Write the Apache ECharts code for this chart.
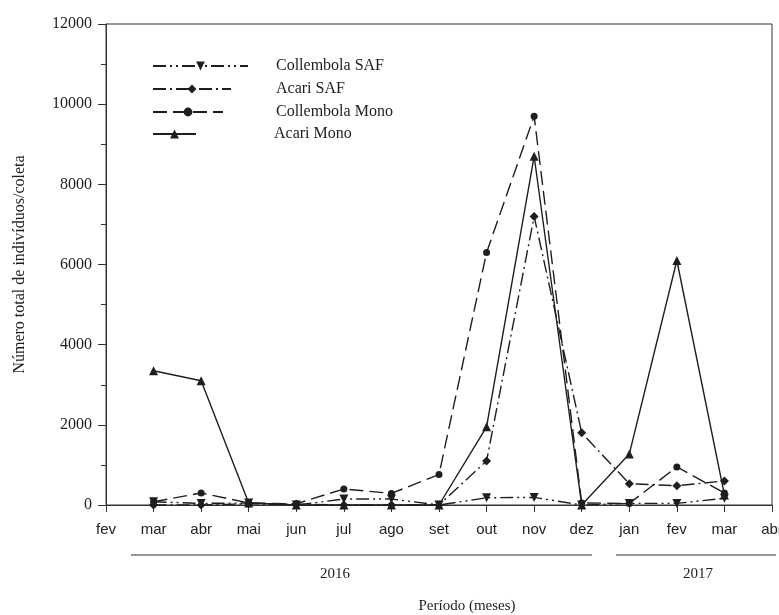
<!DOCTYPE html>
<html>
<head>
<meta charset="utf-8">
<script src="https://cdn.jsdelivr.net/npm/echarts@6/dist/echarts.min.js"></script>
<style>
html,body{margin:0;padding:0;background:#fff;}
#c{width:779px;height:615px;}
</style>
</head>
<body>
<div id="c"></div>
<script>
var months = ['fev','mar','abr','mai','jun','jul','ago','set','out','nov','dez','jan','fev','mar','abr'];
var yTicks = [0, 2000, 4000, 6000, 8000, 10000, 12000];
// values per sampling month (mar/2016 ... mar/2017); fev/2016 and abr/2017 have no sample
var collembolaSAF  = [null, 80, 40, 50, 0, 150, 150, 0, 180, 190, 0, 40, 40, 170, null];
var acariSAF       = [null, 0, 0, 30, 20, 0, 0, 0, 1100, 7200, 1800, 530, 480, 600, null];
var collembolaMono = [null, 80, 300, 50, 30, 400, 290, 760, 6300, 9700, 50, 40, 950, 300, null];
var acariMono      = [null, 3350, 3100, 50, 0, 0, 0, 0, 1950, 8700, 0, 1270, 6100, 250, null];
var seriesNames = ['Collembola SAF', 'Acari SAF', 'Collembola Mono', 'Acari Mono'];
var yearLabels = ['2016', '2017'];

var ink = '#1e1e1e';
var serif = '"Liberation Serif", "Times New Roman", serif';
var sans = '"Liberation Sans", Arial, sans-serif';

function mkSeries(name, data, symbol, size, rotate, dash) {
  return {
    name: name, type: 'line', data: data,
    symbol: symbol, symbolSize: size, symbolRotate: rotate,
    showAllSymbol: true, connectNulls: false,
    lineStyle: { color: ink, width: 1.4, type: dash },
    itemStyle: { color: ink, borderWidth: 0 },
    emphasis: { disabled: true },
    animation: false
  };
}

function mkLegend(name, top, w, pad) {
  return {
    data: [name], left: 152, top: top, padding: 0,
    itemWidth: w, itemHeight: 11,
    textStyle: { fontFamily: serif, fontSize: 16, color: ink, padding: [0, 0, 0, pad] },
    selectedMode: false
  };
}

var chart = echarts.init(document.getElementById('c'), null, { renderer: 'canvas' });
chart.setOption({
  backgroundColor: '#fff',
  animation: false,
  grid: { left: 106, right: 7, top: 24, bottom: 110, outerBoundsMode: 'none', containLabel: false,
    show: true, borderColor: '#333', borderWidth: 1, backgroundColor: 'transparent' },
  legend: [
    mkLegend(seriesNames[0], 58, 95, 23),
    mkLegend(seriesNames[1], 81, 78, 40),
    mkLegend(seriesNames[2], 104, 70, 48),
    mkLegend(seriesNames[3], 126, 43, 73)
  ],
  xAxis: {
    type: 'category', data: months, boundaryGap: false,
    axisLine: { lineStyle: { color: '#333', width: 1 } },
    axisTick: { show: true, length: 7, inside: false, lineStyle: { color: '#333' } },
    axisLabel: { fontFamily: sans, fontSize: 15, color: ink, margin: 17, interval: 0, hideOverlap: false },
    splitLine: { show: false }
  },
  yAxis: {
    type: 'value', min: 0, max: 12000, interval: 2000,
    name: 'Número total de indivíduos/coleta', nameLocation: 'middle', nameGap: 78,
    nameTextStyle: { fontFamily: serif, fontSize: 16, color: ink },
    axisLine: { show: true, lineStyle: { color: '#333', width: 1 } },
    axisTick: { show: true, length: 8, lineStyle: { color: '#333' } },
    minorTick: { show: true, splitNumber: 2, length: 5, lineStyle: { color: '#333' } },
    axisLabel: { fontFamily: serif, fontSize: 16, color: ink, margin: 14,
      formatter: function (v) { return yTicks.indexOf(v) >= 0 ? String(v) : ''; } },
    splitLine: { show: false }
  },
  series: [
    mkSeries(seriesNames[0], collembolaSAF, 'triangle', 9, 180, [13, 4, 2, 4, 2, 4]),
    mkSeries(seriesNames[1], acariSAF, 'diamond', 9, 0, [13, 4, 2, 4]),
    mkSeries(seriesNames[2], collembolaMono, 'circle', 7, 0, [14, 6]),
    mkSeries(seriesNames[3], acariMono, 'triangle', 9, 0, 'solid')
  ],
  graphic: [
    { type: 'line', shape: { x1: 131, y1: 555, x2: 592, y2: 555 }, style: { stroke: '#333', lineWidth: 1.2 }, silent: true },
    { type: 'line', shape: { x1: 616, y1: 555, x2: 776, y2: 555 }, style: { stroke: '#333', lineWidth: 1.2 }, silent: true },
    { type: 'text', x: 335, y: 574, style: { text: yearLabels[0], font: '15px ' + serif, fill: ink, align: 'center', verticalAlign: 'middle' }, silent: true },
    { type: 'text', x: 698, y: 574, style: { text: yearLabels[1], font: '15px ' + serif, fill: ink, align: 'center', verticalAlign: 'middle' }, silent: true },
    { type: 'text', x: 467, y: 606, style: { text: 'Período (meses)', font: '15px ' + serif, fill: ink, align: 'center', verticalAlign: 'middle' }, silent: true }
  ]
});
</script>
</body>
</html>
